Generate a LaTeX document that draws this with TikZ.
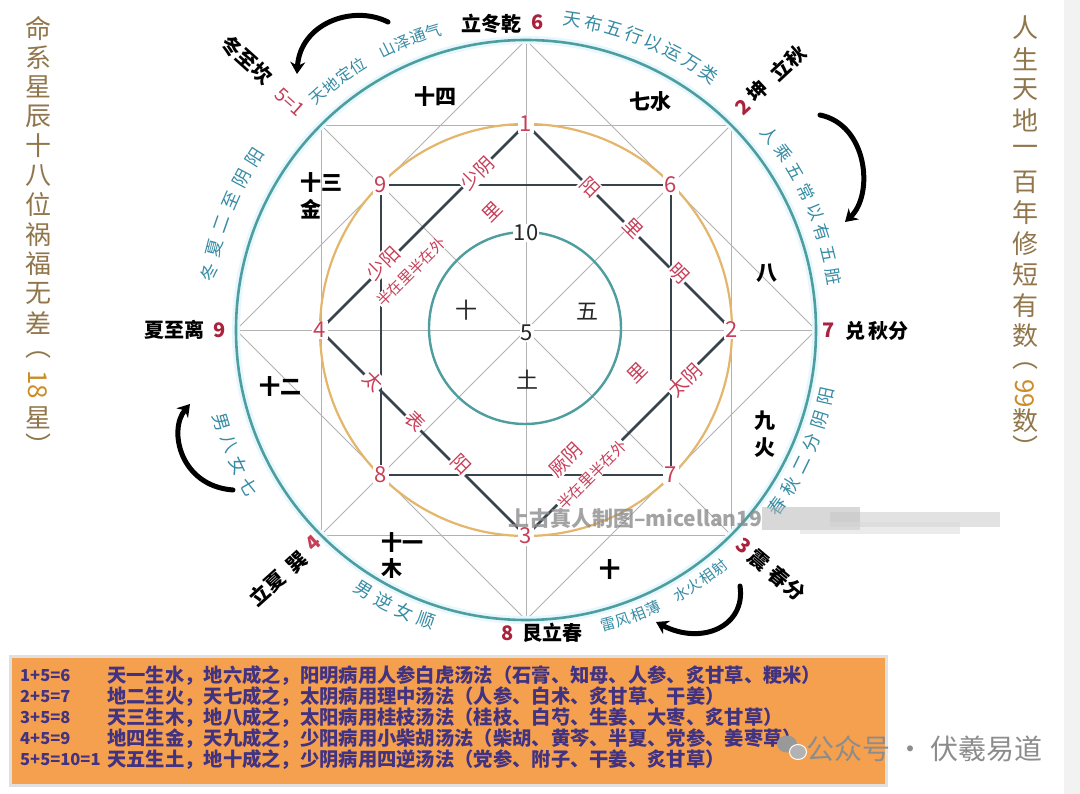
\documentclass[tikz,border=0pt]{standalone}
\usepackage{fontspec}
\setmainfont{Noto Sans CJK SC}
\usetikzlibrary{arrows.meta}
\definecolor{teal1}{RGB}{78,158,160}
\definecolor{tealtext}{RGB}{55,140,165}
\definecolor{orng}{RGB}{228,182,108}
\definecolor{darkln}{RGB}{55,68,78}
\definecolor{thinln}{RGB}{178,178,178}
\definecolor{numred}{RGB}{200,62,88}
\definecolor{outred}{RGB}{170,35,60}
\definecolor{tblorange}{RGB}{245,160,78}
\definecolor{tbltext}{RGB}{65,50,130}
\definecolor{sidetxt}{RGB}{145,118,75}
\definecolor{sidegold}{RGB}{205,140,40}
\definecolor{wmgray}{RGB}{140,140,140}
\newcommand\fsz[1]{\fontsize{#1}{#1}\selectfont}
\newcommand\arctext[7]{%
  \foreach \ch [count=\i from 0] in {#7} {%
    \pgfmathsetmacro\ang{#2+\i*(#3)}%
    \node[arclbl, font=\fsz{#6}, rotate={\ang+(#5)}] (#1\i) at ({526+#4*cos(\ang)},{330-#4*sin(\ang)}) {\ch};
  }}
\begin{document}
\begin{tikzpicture}[x=1pt,y=-1pt,
  thinl/.style={draw=thinln, line width=0.8pt},
  darkl/.style={draw=darkln, line width=2.8pt},
  numnode/.style={fill=white, inner sep=1.5pt, text=numred, font=\fsz{22}},
  redlbl/.style={fill=white, inner sep=1pt, text=numred, font=\fsz{19}},
  redsmall/.style={fill=white, inner sep=0.5pt, text=numred, font=\fsz{15}},
  reglbl/.style={text=black, font=\fsz{21}\bfseries, inner sep=0pt},
  innerlbl/.style={text=black!85, font=\fsz{22}, inner sep=1pt},
  arclbl/.style={text=tealtext, inner sep=0pt},
  outlbl/.style={text=black, font=\fsz{20}\bfseries, inner sep=0pt},
  sidelbl/.style={text=sidetxt, font=\fsz{26}, inner sep=0pt},
  tblnum/.style={text=tbltext, font=\fsz{16.5}\bfseries, inner sep=0pt, anchor=west},
  tbltxt/.style={text=tbltext, font=\fsz{19.3}\bfseries, inner sep=0pt, anchor=west},
  brush/.style={draw=black, line width=5pt, line cap=round, -{Stealth[length=12pt,width=15pt]}}
]
\useasboundingbox (0,0) rectangle (1080,794);
\fill[white] (0,0) rectangle (1080,794);
\fill[black!5] (1064,0) rectangle (1080,794);

% key points
\coordinate (O) at (526,330);
\coordinate (T) at (526,40); \coordinate (B) at (526,620);
\coordinate (L) at (236,330); \coordinate (R) at (816,330);
\coordinate (UL) at (321,125); \coordinate (UR) at (731,125);
\coordinate (LL) at (321,535); \coordinate (LR) at (731,535);
\coordinate (c1) at (526,124); \coordinate (c2) at (732,330);
\coordinate (c3) at (526,536); \coordinate (c4) at (320,330);
\coordinate (c9) at (381,185); \coordinate (c6) at (671,185);
\coordinate (c7) at (671,475); \coordinate (c8) at (381,475);

% thin grid
\draw[thinl] (UL) -- (UR) -- (LR) -- (LL) -- cycle;
\draw[thinl] (T) -- (R) -- (B) -- (L) -- cycle;
\draw[thinl] (T) -- (B);
\draw[thinl] (L) -- (R);
\draw[thinl] (UL) -- (LR);
\draw[thinl] (UR) -- (LL);

% circles
\draw[cyan!10, line width=8pt] (O) circle[radius=290];
\draw[teal1, line width=2.6pt] (O) circle[radius=290];
\draw[orng, line width=2.2pt] (O) circle[radius=206];
\draw[teal1, line width=2.4pt] (525,328) circle[radius=96];

% thick figure
\draw[darkl] (c9) -- (c6) -- (c7) -- (c8) -- cycle;
\draw[darkl] (c1) -- (c2) -- (c3) -- (c4) -- cycle;

% red labels on figure
\node[redlbl, rotate=45] (shaoyin) at (477,173) {少阴};
\node[redlbl, rotate=45] (li1) at (492,212) {里};
\node[redlbl, rotate=45] (shaoyang) at (383,263) {少阳};
\node[redsmall, rotate=45] (banA) at (411,272) {半在里半在外};
\node[redlbl, rotate=-45] (yang1) at (590,187) {阳};
\node[redlbl, rotate=-45] (li2) at (633,228) {里};
\node[redlbl, rotate=-45] (ming) at (679,273) {明};
\node[redlbl, rotate=-45] (tai) at (373,381) {太};
\node[redlbl, rotate=-45] (biao) at (415,421) {表};
\node[redlbl, rotate=-45] (yang2) at (461,464) {阳};
\node[redlbl, rotate=45] (taiyin) at (685,380) {太阴};
\node[redlbl, rotate=45] (li3) at (637,373) {里};
\node[redlbl, rotate=45] (jueyin) at (566,460) {厥阴};
\node[redsmall, rotate=45] (banB) at (592,475) {半在里半在外};

% numbers
\foreach \n in {1,2,3,4,6,7,8,9} \node[numnode] (n\n) at (c\n) {\n};

% inner circle
\node[innerlbl, fill=white] (n10) at (526,233) {10};
\node[innerlbl, fill=white] (n5) at (527,333) {5};
\node[innerlbl] (shiIn) at (466,310) {十};
\node[innerlbl] (wu) at (587,312) {五};
\node[innerlbl] (tu) at (527,380) {土};

% region labels
\node[reglbl] (r14) at (435,97) {十四};
\node[reglbl] (r7) at (650,102) {七水};
\node[reglbl] (r13) at (321,183) {十三};
\node[reglbl] (r13b) at (311,209) {金};
\node[reglbl] (r8) at (767,273) {八};
\node[reglbl] (r12) at (280,387) {十二};
\node[reglbl] (r9) at (765,421) {九};
\node[reglbl] (r9b) at (765,448) {火};
\node[reglbl] (r11) at (402,543) {十一};
\node[reglbl] (r11b) at (392,569) {木};
\node[reglbl] (r10) at (610,570) {十};

% outer labels
\node[outlbl] (lidong) at (491,24) {立冬乾};
\node[outlbl, text=outred] (o6) at (538,22) {6};
\node[outlbl, text=outred, rotate=43] (o2) at (743,107) {2};
\node[outlbl, rotate=43] (okun) at (758,91) {坤};
\node[outlbl, rotate=43] (oliqiu) at (788,63) {立秋};
\node[outlbl, text=outred] (o7) at (829,330) {7};
\node[outlbl] (odui) at (877,331) {兑\,秋分};
\node[outlbl, text=outred, rotate=-40] (o3) at (744,546) {3};
\node[outlbl, rotate=-40] (ozhen) at (759,560) {震};
\node[outlbl, rotate=-40] (ochunfen) at (787,584) {春分};
\node[outlbl, text=outred] (o8) at (508,633) {8};
\node[outlbl] (ogen) at (552,633) {艮立春};
\node[outlbl, text=numred, rotate=42] (o4) at (313,543) {4};
\node[outlbl, rotate=42] (oxun) at (297,562) {巽};
\node[outlbl, rotate=42] (olixia) at (267,588) {立夏};
\node[outlbl] (oli) at (174,330) {夏至离};
\node[outlbl, text=outred] (o9) at (220,330) {9};
\node[outlbl, rotate=-42] (okan) at (247,60) {冬至坎};
\node[outlbl, text=numred, font=\fsz{19}, rotate=-42] (o51) at (290,102) {5=1};

% curved teal texts
\arctext{ta}{81.5}{-3.87}{314}{-90}{18}{天,布,五,行,以,运,万,类}
\arctext{tb}{38.6}{-4.1}{312}{-90}{17}{人,乘,五,常,以,有,五,脏}
\arctext{tc}{-35}{4.5}{307}{90}{18}{春,秋,二,分,阴,阳}
\arctext{td}{-74.4}{2.95}{306}{90}{15}{雷,风,相,薄,{},水,火,相,射}
\arctext{te}{-122}{4.33}{307}{90}{18}{男,逆,女,顺}
\arctext{tf}{196.8}{4.23}{318}{90}{18}{男,八,女,七}
\arctext{tg}{169.7}{-4.44}{322}{-90}{18}{冬,夏,二,至,阴,阳}
\arctext{th}{131.6}{-3.05}{313}{-90}{16}{天,地,定,位,{},山,泽,通,气}

% curved arrows
\coordinate (a1s) at (388,22); \coordinate (a1e) at (297,74);
\draw[brush] (a1s) .. controls (352,4) and (300,24) .. (a1e);
\coordinate (a2s) at (820,115); \coordinate (a2e) at (845,222);
\draw[brush] (a2s) .. controls (868,125) and (874,195) .. (a2e);
\coordinate (a3s) at (233,490); \coordinate (a3e) at (190,404);
\draw[brush] (a3s) .. controls (180,486) and (168,430) .. (a3e);
\coordinate (a4s) at (740,586); \coordinate (a4e) at (656,622);
\draw[brush] (a4s) .. controls (746,626) and (702,646) .. (a4e);

% watermark
\fill[gray!55, opacity=0.55] (762,507) rectangle (860,530);
\fill[gray!45, opacity=0.5] (830,512) rectangle (1000,527);
\fill[gray!30, opacity=0.5] (800,522) rectangle (960,534);
\node[anchor=west, text=wmgray, opacity=0.8, font=\fsz{21}\bfseries, inner sep=0pt] (wm) at (508,519) {上古真人制图--micellan19};

% side texts
\foreach \ch [count=\i from 0] in {命,系,星,辰,十,八,位,祸,福,无,差}
  \node[sidelbl] (L\i) at (38,{28+\i*29.5}) {\ch};
\node[sidelbl] (Lp1) at (38,355) {︵};
\node[sidelbl, rotate=-90, text=sidegold] (L18) at (38,385) {18};
\node[sidelbl] (Lxing) at (38,418) {星};
\node[sidelbl] (Lp2) at (38,445) {︶};
\foreach \ch [count=\i from 0] in {人,生,天,地,一,百,年,修,短,有,数}
  \node[sidelbl] (R\i) at (1025,{28+\i*30.8}) {\ch};
\node[sidelbl] (Rp1) at (1025,366) {︵};
\node[sidelbl, rotate=-90, text=sidegold] (R99) at (1025,394) {99};
\node[sidelbl] (Rshu) at (1025,421) {数};
\node[sidelbl] (Rp2) at (1025,447) {︶};

% table
\fill[black!12] (9,655) rectangle (888,787);
\fill[tblorange] (12,658) rectangle (885,784);
\node[tblnum] (k1) at (20,676) {1+5=6};
\node[tblnum] (k2) at (20,697) {2+5=7};
\node[tblnum] (k3) at (20,718) {3+5=8};
\node[tblnum] (k4) at (20,739) {4+5=9};
\node[tblnum] (k5) at (20,760) {5+5=10=1};
\node[tbltxt] (t1) at (107,676) {天一生水，地六成之，阳明病用人参白虎汤法（石膏、知母、人参、炙甘草、粳米）};
\node[tbltxt] (t2) at (107,697) {地二生火，天七成之，太阴病用理中汤法（人参、白术、炙甘草、干姜）};
\node[tbltxt] (t3) at (107,718) {天三生木，地八成之，太阳病用桂枝汤法（桂枝、白芍、生姜、大枣、炙甘草）};
\node[tbltxt] (t4) at (107,739) {地四生金，天九成之，少阳病用小柴胡汤法（柴胡、黄芩、半夏、党参、姜枣草）};
\node[tbltxt] (t5) at (107,760) {天五生土，地十成之，少阴病用四逆汤法（党参、附子、干姜、炙甘草）};

% account mark
\fill[gray!80] (787,744) ellipse (10 and 8.5);
\fill[gray!60, draw=white, line width=1pt] (798,752) ellipse (8.5 and 7.5);
\node[anchor=west, text=wmgray, font=\fsz{28}, inner sep=0pt] (gzh) at (806,749) {公众号 · 伏羲易道};
\end{tikzpicture}
\end{document}
